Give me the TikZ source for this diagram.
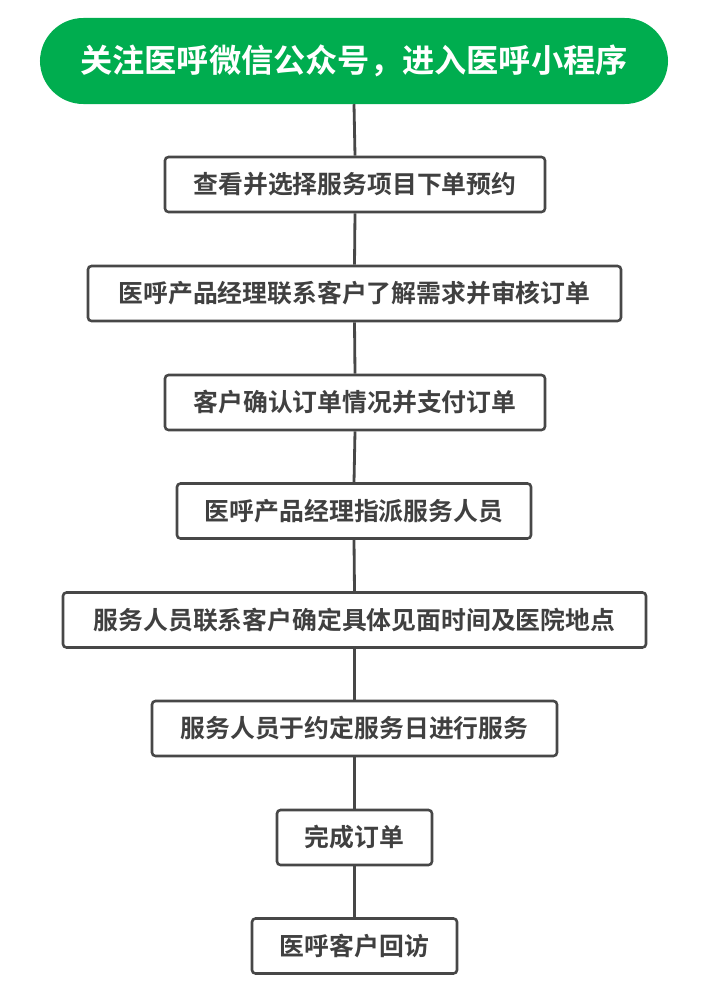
\documentclass[tikz,border=0pt]{standalone}
\usepackage{fontspec}
\newfontfamily\cjk{Noto Sans CJK SC}[BoldFont={Noto Sans CJK SC Bold}]
\definecolor{flowgreen}{HTML}{00AD4F}
\definecolor{flowgray}{HTML}{474747}
\tikzset{
	stepbox/.style={draw=flowgray, line width=2.2pt, rounded corners=3pt, fill=white,
			font=\cjk\bfseries\fontsize{21.2}{24}\selectfont, text=flowgray!90!black,
			inner sep=0pt, minimum height=1.65cm},
	startbox/.style={fill=flowgreen, rounded corners=1.3cm, text=white,
			font=\cjk\bfseries\fontsize{27.5}{30}\selectfont, inner sep=0pt,
			minimum width=18.84cm, minimum height=2.58cm},
	link/.style={draw=flowgray, line width=2.4pt}
}
\begin{document}
\begin{tikzpicture}[x=0.03cm, y=-0.03cm]
	\useasboundingbox (0,0) rectangle (703,983);
	% start
	\node[startbox] (s0) at (354,61) {关注医呼微信公众号，进入医呼小程序};
	% steps
	\node[stepbox, minimum width=11.4cm] (s1) at (355,184.5) {查看并选择服务项目下单预约};
	\node[stepbox, minimum width=15.99cm] (s2) at (354.5,293.5) {医呼产品经理联系客户了解需求并审核订单};
	\node[stepbox, minimum width=11.4cm] (s3) at (355,402.5) {客户确认订单情况并支付订单};
	\node[stepbox, minimum width=10.62cm] (s4) at (354,511) {医呼产品经理指派服务人员};
	\node[stepbox, minimum width=17.49cm] (s5) at (354.5,620) {服务人员联系客户确定具体见面时间及医院地点};
	\node[stepbox, minimum width=12.15cm] (s6) at (354.5,728.5) {服务人员于约定服务日进行服务};
	\node[stepbox, minimum width=4.65cm] (s7) at (354.5,837.5) {完成订单};
	\node[stepbox, minimum width=6.15cm] (s8) at (354.5,946) {医呼客户回访};
	% connectors
	\foreach \a/\b in {s0/s1,s1/s2,s2/s3,s3/s4,s4/s5,s5/s6,s6/s7,s7/s8}
		\draw[link] (\a.south) -- (\b.north);
\end{tikzpicture}
\end{document}
